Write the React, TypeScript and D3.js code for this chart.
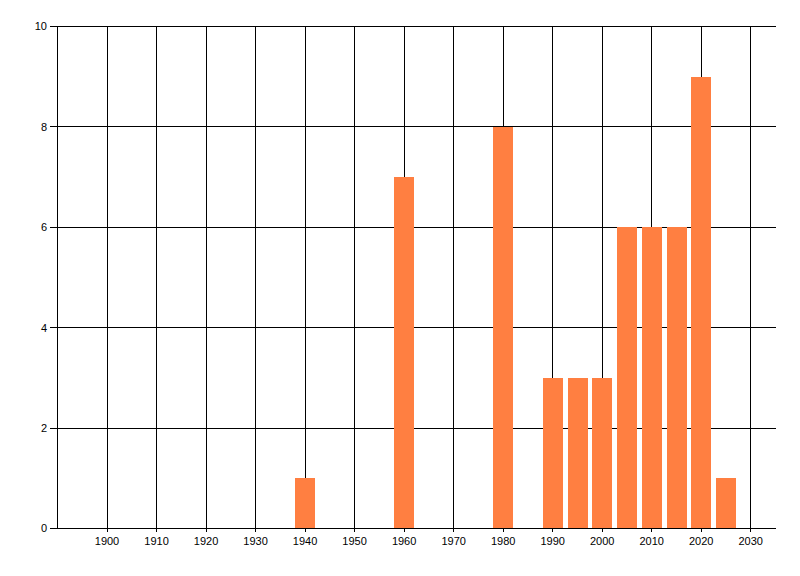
import React from "react";
import * as d3 from "d3";

const years = [1940, 1960, 1980, 1990, 1995, 2000, 2005, 2010, 2015, 2020, 2025];
const counts = [1, 7, 8, 3, 3, 3, 6, 6, 6, 9, 1];
const xTicks = [1900, 1910, 1920, 1930, 1940, 1950, 1960, 1970, 1980, 1990, 2000, 2010, 2020, 2030];
const yTicks = [0, 2, 4, 6, 8, 10];

const W = 800;
const H = 576;
const left = 57.5;
const right = 775.5;
const top = 26.5;
const bottom = 528.5;

const snap = (v: number) => Math.floor(v) + 0.5;

export default function App() {
  const x = d3.scaleLinear().domain([1890, 2035]).range([left, right]);
  const y = d3.scaleLinear().domain([0, 10]).range([bottom, top]);
  const barW = x(1894) - x(1890);
  const font = "'Liberation Sans', Arial, sans-serif";
  const axisY = snap(y(0));
  return (
    <svg
      width={W}
      height={H}
      style={{ position: "absolute", left: 0, top: 0, background: "#fff" }}
      shapeRendering="crispEdges"
    >
      {/* horizontal grid + y ticks */}
      {yTicks.map((t) => (
        <g key={"y" + t}>
          <line x1={left - 8} x2={right} y1={snap(y(t))} y2={snap(y(t))} stroke="#000" strokeWidth={1} />
          <text
            x={47}
            y={y(t)}
            dy="0.35em"
            textAnchor="end"
            fontFamily={font}
            fontSize={11}
            fill="#000"
          >
            {t}
          </text>
        </g>
      ))}
      {/* vertical grid + x ticks */}
      {xTicks.map((t) => (
        <g key={"x" + t}>
          <line x1={snap(x(t))} x2={snap(x(t))} y1={snap(top)} y2={axisY + 3} stroke="#000" strokeWidth={1} />
          <text
            x={x(t)}
            y={545}
            textAnchor="middle"
            fontFamily={font}
            fontSize={11}
            fill="#000"
          >
            {t}
          </text>
        </g>
      ))}
      {/* y axis line */}
      <line x1={snap(left)} x2={snap(left)} y1={snap(top)} y2={axisY} stroke="#000" strokeWidth={1} />
      {/* bars */}
      {years.map((yr, i) => (
        <rect
          key={yr}
          x={Math.round(x(yr) - barW / 2)}
          y={Math.round(y(counts[i]))}
          width={Math.round(barW)}
          height={Math.floor(y(0)) - Math.round(y(counts[i]))}
          fill="#ff7f41"
        />
      ))}
      {/* x axis line */}
      <line x1={snap(left)} x2={right} y1={axisY} y2={axisY} stroke="#000" strokeWidth={1} />
    </svg>
  );
}
